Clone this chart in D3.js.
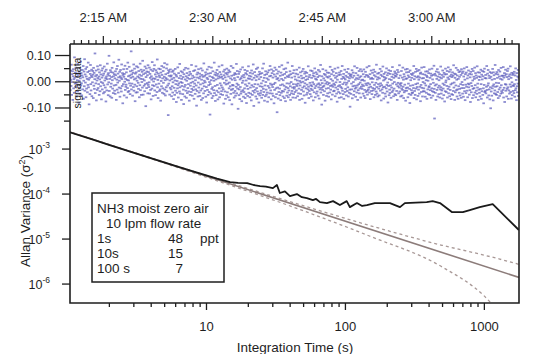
<!DOCTYPE html>
<html>
<head>
<meta charset="utf-8">
<script src="https://cdn.jsdelivr.net/npm/d3@7"></script>
<style>
  html, body { margin: 0; padding: 0; background: #fff; }
  svg { display: block; font-family: "Liberation Sans", Arial, sans-serif; }
</style>
</head>
<body>
<svg id="chart" width="544" height="354"></svg>
<script>
// ---- data ----------------------------------------------------------------
// NH3 zero-air signal (ppb), evenly sampled over the run
const runStart = Date.UTC(2012, 0, 1, 2, 10, 26);
const runEnd   = Date.UTC(2012, 0, 1, 3, 11, 57);
const signalValues = [
 .012,-.034,.041,.005,-.018,.063,-.052,.027,-.003,.038,-.071,.019,.046,-.027,.008,-.044,.091,.014,-.009,.033,
 -.021,.052,-.006,.029,-.058,.017,.004,-.039,.066,-.013,.024,-.082,.036,.001,-.025,.049,-.047,.011,.075,-.016,
 .031,-.008,-.054,.022,.043,-.031,.015,.058,-.067,.002,.037,-.019,.084,-.036,.026,-.005,.047,-.061,.018,-.028,
 .054,.009,-.042,.035,-.014,.071,-.023,.006,-.088,.039,.013,-.049,.028,.062,-.011,-.035,.021,.044,-.057,.016,
 -.004,.039,.025,-.064,.051,-.017,.032,-.029,.008,.106,-.045,.019,-.008,.041,-.073,.024,.003,-.033,.057,.012,
 -.026,.045,-.011,.018,-.052,.034,.007,-.038,.061,-.019,.026,-.003,-.069,.041,.014,-.031,.049,-.007,.022,-.046,
 .029,-.015,.056,-.041,.003,.037,-.024,.012,-.077,.044,.018,-.035,.008,.067,-.012,.025,-.053,.031,-.004,.097,
 -.037,.021,.009,-.058,.042,-.021,.035,-.009,.016,-.063,.051,.004,-.028,.033,-.045,.019,.072,-.016,.027,-.036,
 .011,-.048,.038,.023,-.014,-.071,.047,.006,-.032,.058,-.005,.029,-.043,.015,.082,-.024,.002,.036,-.059,.019,
 .043,-.027,.013,-.039,.064,.008,-.018,.031,-.084,.024,-.011,.046,.017,-.054,.028,-.002,.059,-.033,.009,-.021,
 -.013,.034,-.062,.047,.005,-.026,.071,-.041,.019,.003,-.037,.055,-.008,.022,-.049,.038,-.017,.013,.114,-.031,
 .026,-.009,.041,-.055,.017,.032,-.022,.064,-.036,.007,.048,-.013,-.076,.029,.011,-.043,.034,.057,-.019,.002,
 -.042,.018,.053,-.006,-.029,.039,.014,-.061,.025,-.015,.067,-.034,.009,.044,-.052,.021,-.003,.036,-.024,.078,
 .008,-.051,.027,.042,-.017,.003,-.038,.056,-.011,.031,-.095,.016,.049,-.026,.037,-.007,.023,-.046,.061,-.014,
 .035,-.022,-.004,.052,-.047,.028,.013,-.033,.044,-.069,.019,.006,-.028,.073,-.015,.039,-.056,.011,-.001,.047,
 -.018,.061,-.035,.009,.026,-.053,.042,-.012,.017,.034,-.041,.083,-.023,.005,-.064,.029,.048,-.009,.021,-.037,
 .015,-.031,.046,-.074,.033,.001,-.019,.058,.024,-.044,.011,-.027,.039,-.006,.053,-.048,.017,.069,-.032,.004,
 -.054,.027,.012,-.023,.049,-.038,.064,.007,-.016,.031,-.129,.042,-.009,.021,.036,-.051,.003,-.025,.045,.018,
 -.031,.022,-.057,.008,-.019,.036,-.043,-.004,.041,-.068,.013,-.025,.029,-.052,.003,.047,-.036,-.011,.024,-.079,
 .018,-.044,.001,-.027,.053,-.015,-.062,.031,-.008,.012,-.039,.066,-.023,-.047,.021,-.003,.038,-.071,.009,-.018,
 -.006,.034,-.049,.016,-.032,-.087,.027,.044,-.021,-.058,.007,-.014,.051,-.036,.019,-.063,.002,.031,-.045,.013,
 -.026,.048,-.011,-.039,.023,-.074,.009,.036,-.052,-.017,.028,-.006,-.041,.062,-.029,.011,-.055,.021,-.002,-.034,
 .039,-.021,-.067,.015,-.009,.042,-.048,.004,-.031,.057,-.016,-.093,.026,-.037,.014,.033,-.058,-.005,.046,-.024,
 -.043,.011,.029,-.056,.018,-.012,-.035,.049,-.071,.006,.024,-.028,.041,-.064,-.008,.017,-.046,.068,-.019,.002,
 .021,-.037,-.004,.034,-.059,.026,-.022,-.081,.013,.045,-.033,.008,-.052,.029,-.015,.055,-.041,-.003,.019,-.127,
 -.011,.031,-.047,.004,.052,-.029,-.064,.016,-.023,.038,-.056,.012,-.034,.002,.071,-.045,.025,-.018,-.075,.033,
 .007,-.053,.022,-.036,.043,-.014,.028,-.069,.011,-.042,.019,.056,-.027,-.061,.035,-.008,.014,-.049,.026,-.016,
 -.038,.017,.061,-.024,-.052,.009,-.031,.037,-.085,.023,-.006,.044,-.039,.015,-.067,.031,-.012,.003,-.054,.048,
 .026,-.042,-.009,.033,-.061,.018,.042,-.027,-.005,-.072,.036,-.019,.011,-.048,.058,-.033,.021,-.088,.006,-.014,
 -.029,.051,-.016,-.044,.024,-.062,.012,.031,-.037,.004,-.055,.027,-.021,.066,-.046,-.009,.039,-.028,.016,-.105,
 -.014,.028,-.053,-.031,.036,-.068,.007,-.022,.045,-.047,.012,-.039,-.076,.019,-.006,.053,-.034,.002,-.059,.024,
 -.041,.015,-.027,.043,-.064,-.012,.031,-.049,.003,-.083,.026,-.018,.039,-.056,-.029,.011,.057,-.044,-.008,.021,
 .009,-.061,.032,-.024,-.047,.018,-.073,.041,-.015,.006,-.052,.029,-.037,.064,-.021,-.094,.013,-.043,.035,-.011,
 -.033,.022,-.058,.004,.047,-.026,-.067,.017,-.039,.052,-.012,-.048,.025,-.081,.008,.036,-.054,-.019,.028,-.045,
 .016,-.036,-.008,-.063,.031,-.021,.049,-.052,.002,-.029,.067,-.041,.013,-.074,.024,-.016,-.057,.038,-.003,-.032,
 -.051,.027,.011,-.043,-.078,.034,-.018,.006,-.061,.042,-.025,.019,-.046,.058,-.009,-.035,.021,-.069,.045,-.014,
 .031,-.047,-.022,.014,-.056,.039,-.011,-.084,.026,-.033,.052,-.006,-.061,.018,-.027,.044,-.049,.008,-.118,.029,
 -.024,.012,-.066,.037,-.041,.003,.055,-.028,-.053,.021,-.015,-.072,.033,-.044,.009,.061,-.037,-.012,.024,-.058,
 .004,-.039,.046,-.017,-.064,.028,-.031,.013,-.076,.049,-.022,.035,-.055,-.008,.019,-.043,.071,-.026,-.061,.016,
 -.035,.023,-.009,-.052,.038,-.019,-.071,.027,-.003,-.046,.014,-.037,.058,-.024,-.062,.031,-.011,-.049,.042,-.028,
 -.022,.018,-.041,.007,-.063,.029,-.012,-.035,.044,-.018,.003,-.057,.026,-.009,-.046,.015,-.028,.052,-.071,.001,
 -.016,.034,-.048,-.005,.021,-.033,.011,-.067,.038,-.024,-.002,.047,-.039,.013,-.054,-.019,.029,-.008,-.082,.036,
 .005,-.027,.019,-.051,.032,-.013,-.044,.008,-.031,.057,-.021,-.064,.016,-.037,.024,-.006,-.049,.041,-.015,-.029,
 -.058,.013,-.019,.039,-.034,-.004,.022,-.073,.031,-.011,-.042,.018,.049,-.026,-.061,.009,-.018,.034,-.047,.006,
 .027,-.039,-.012,.016,-.055,.043,-.023,-.008,-.066,.021,.037,-.031,-.014,.062,-.043,.004,-.025,-.089,.019,-.007,
 -.033,.046,-.021,-.052,.011,-.017,.028,-.038,.003,-.074,.024,-.009,.041,-.028,-.056,.017,-.003,.033,-.046,-.012,
 .014,-.026,-.059,.032,-.007,.019,-.043,.055,-.018,-.032,.008,-.069,.027,-.015,.043,-.051,.002,-.021,.036,-.038,
 -.009,.022,-.036,-.014,.048,-.057,.013,-.024,-.004,.031,-.047,.019,-.078,.006,-.031,.052,-.019,-.041,.024,-.063,
 .033,-.015,-.003,-.046,.025,-.022,.039,-.061,.009,-.027,.058,-.036,-.011,.017,-.049,.028,-.067,.012,-.005,.044,
 -.041,.007,-.029,.021,-.013,-.054,.035,-.006,-.037,.016,-.023,.047,-.058,.001,.029,-.044,.011,-.032,-.097,.023,
 .018,-.048,.026,-.009,-.031,.042,-.065,.014,-.019,.033,-.003,-.052,.021,-.038,.057,-.017,-.028,.006,-.059,.031,
 -.024,.012,-.043,.051,-.016,-.071,.023,-.034,.008,-.011,.039,-.046,.015,-.027,-.005,.046,-.062,.019,-.021,.004,
 .038,-.029,-.013,.006,-.047,.027,-.018,.045,-.056,.002,-.033,.017,-.064,.036,-.009,-.041,.024,-.015,.053,-.036,
 -.051,.021,-.007,-.032,.016,-.024,.058,-.043,-.012,.027,-.068,.009,-.021,.041,-.037,.013,-.049,-.004,.032,-.026,
 .009,-.035,.044,-.061,.023,-.014,-.029,.036,-.052,.018,-.006,-.039,.063,-.022,-.047,.007,.029,-.058,.015,-.011,
 -.028,.032,-.054,.011,-.019,.047,-.036,-.008,.024,-.073,.038,-.015,-.031,.019,-.044,.056,-.023,.003,-.066,.028,
 .016,-.021,.007,-.047,.034,-.058,.012,-.027,.049,-.014,-.039,.023,-.005,-.081,.031,-.018,.042,-.053,.008,-.032,
 -.045,.028,-.016,.039,-.063,.005,-.024,.017,-.041,.054,-.009,-.035,.026,-.057,.013,-.028,-.003,.037,-.049,.021,
 .031,-.053,.018,-.012,-.037,.026,-.071,.043,-.019,-.006,.035,-.046,.012,-.024,.061,-.039,-.011,.022,-.058,-.017,
 -.007,.039,-.028,-.055,.014,-.033,.052,-.021,.006,-.064,.027,-.042,.018,-.013,-.036,.045,-.074,.009,-.026,.034,
 -.036,.011,.047,-.024,-.061,.022,-.009,.035,-.048,.016,-.029,-.083,.041,-.017,.004,-.052,.028,-.034,.013,-.045,
 .024,-.043,-.015,.031,-.026,.058,-.064,.008,-.037,.019,-.052,.036,-.011,-.028,.047,-.069,.015,-.022,.039,-.008,
 -.056,.019,-.032,.006,.043,-.047,.014,-.021,.029,-.076,.033,-.014,-.041,.052,-.025,.011,-.058,.027,-.003,-.038,
 .012,-.027,.054,-.039,-.008,.025,-.059,.037,-.016,.004,-.044,.021,-.067,.016,.038,-.031,.002,-.049,.031,-.023,
 -.019,.045,-.052,.013,-.034,-.011,.029,-.063,.021,-.027,.048,-.038,.007,-.055,.024,-.006,-.041,.059,-.029,-.142,
 .028,-.016,-.044,.022,-.071,.037,-.012,.009,-.033,.046,-.058,.018,-.024,.034,-.049,.004,-.017,.027,-.062,.015,
 -.031,.056,-.023,-.047,.011,-.035,.024,-.066,.041,-.009,-.028,.017,-.053,.032,-.014,-.077,.026,-.038,.048,-.004,
 .003,-.041,.027,-.018,.039,-.062,.014,-.029,.053,-.046,.008,-.021,.036,-.057,.019,-.033,.044,-.012,-.068,.025,
 -.049,.016,-.008,.034,-.052,.021,-.037,.061,-.024,-.005,.029,-.071,.013,-.042,.027,-.016,.051,-.034,.006,-.058,
 .022,-.031,.043,-.067,.009,-.019,.035,-.044,.017,-.029,-.054,.038,-.011,.024,-.063,.046,-.026,-.003,.031,-.047,
 -.014,.037,-.059,.018,-.026,.049,-.038,.006,-.072,.027,-.013,-.045,.033,-.021,.054,-.036,.011,-.061,.022,-.009,
 .041,-.023,-.012,-.051,.028,-.034,.015,-.079,.036,-.007,-.042,.026,-.018,.047,-.064,.003,-.029,.039,-.053,.017,
 -.026,.009,.052,-.043,-.015,.031,-.061,.022,-.036,.013,-.048,.057,-.024,-.009,.034,-.071,.018,-.032,.005,-.044,
 .033,-.058,.016,-.029,.044,-.011,-.067,.025,-.038,.007,.039,-.052,.019,-.027,-.084,.036,-.014,.048,-.041,.012,
 -.037,.024,-.046,.011,-.021,.058,-.033,-.062,.029,-.016,.043,-.008,-.054,.021,-.031,.012,-.069,.035,-.023,-.103,
 .017,-.039,.031,-.055,.006,-.027,.047,-.018,-.073,.034,-.012,.023,-.046,.009,-.035,.062,-.021,-.049,.028,-.006,
 -.052,.035,-.019,.013,-.041,.026,-.064,.043,-.007,-.031,.018,-.056,.037,-.024,.009,-.047,.051,-.015,-.038,.021,
 .006,-.044,.021,-.033,.054,-.062,.014,-.025,.031,-.079,.022,-.011,.044,-.036,-.013,.027,-.058,.016,-.029,.039,
 -.023,.048,-.067,.008,-.035,.019,-.047,.026,-.012,.057,-.041,-.021,.013,-.066,.032,-.004,-.053,.024,-.016,-.037,
 .029,-.018,-.045,.036,-.011,-.059,.022,-.034,.049,-.027,.005,-.072,.031,-.019,-.042,.018,-.009,.043,-.056,.014
];

// Allan variance of the signal (ppb^2) vs integration time (s)
const allanTau = [1, 1.5, 2, 3, 4, 5, 6.5, 9, 12, 14.9, 17, 19.8, 22, 24.5, 27, 30.3, 32.4, 34, 37, 40.2,
  45.1, 49, 53.2, 58.8, 62, 66.1, 74.2, 82.1, 92, 103, 108.5, 122, 133, 144, 164, 211, 229, 249, 270,
  388, 428, 483, 588, 706, 792, 934, 1158, 1786];
const allanVar = [2.40e-3, 1.62e-3, 1.21e-3, 8.1e-4, 6.1e-4, 4.95e-4, 3.8e-4, 2.8e-4, 2.15e-4, 1.80e-4,
  1.72e-4, 1.71e-4, 1.55e-4, 1.47e-4, 1.42e-4, 1.32e-4, 1.55e-4, 1.03e-4, 1.12e-4, 8.8e-5,
  9.75e-5, 8.3e-5, 7.94e-5, 7.17e-5, 7.6e-5, 6.47e-5, 6.15e-5, 6.8e-5, 5.55e-5, 6.8e-5,
  5.0e-5, 6.15e-5, 5.3e-5, 5.55e-5, 6.15e-5, 6.15e-5, 5.55e-5, 5.0e-5, 6.15e-5,
  6.47e-5, 6.8e-5, 6.15e-5, 3.88e-5, 3.88e-5, 4.3e-5, 5.0e-5, 5.85e-5, 1.55e-5];

// white-noise (1/tau) reference and its confidence bounds
const whiteTau = [1, 1790];
const whiteVar = [2.45e-3, 1.369e-6];
const boundTau = [1, 10, 50, 150, 500, 1000, 1300, 1790];
const upperVar = [2.47e-3, 2.55e-4, 5.4e-5, 1.96e-5, 7.1e-6, 4.3e-6, 3.5e-6, 2.67e-6];
const lowerVar = [2.43e-3, 2.33e-4, 4.17e-5, 1.14e-5, 2.35e-6, 5.4e-7, 2.3e-7, 1.0e-7];

// axis ticks and legend text
const sigMajorTicks = [0.10, 0.00, -0.10];
const sigMinorTicks = [0.05, -0.05, -0.15];
const varTickExps = [-3, -4, -5, -6];
const tauLabels = [10, 100, 1000];
const legendTitle = ["NH3 moist zero air", "10 lpm flow rate"];
const legendTimes = ["1s", "10s", "100 s"];
const legendPpt = [48, 15, 7];

// ---- layout --------------------------------------------------------------
const L = 70, R = 519, T = 44, B = 303;
const svg = d3.select("#chart");
const ink = "#1e1e1e";

const xTime = d3.scaleUtc().domain([runStart, runEnd]).range([L, R]);
const ySig = d3.scaleLinear().domain([-0.19, 0.15]).range([131.1, 41.9]);
const xTau = d3.scaleLog().domain([1.05, 1790]).range([L, R]);
const yVar = d3.scaleLog().domain([3.7e-7, 2.6e-3]).range([B, B - 45 * Math.log10(2.6e-3 / 3.7e-7)]);

svg.append("defs").append("clipPath").attr("id", "plotClip")
  .append("rect").attr("x", L).attr("y", T).attr("width", R - L).attr("height", B - T);

// ---- signal panel --------------------------------------------------------
const step = (runEnd - runStart) / signalValues.length;
svg.append("g").attr("clip-path", "url(#plotClip)")
  .selectAll("rect").data(signalValues).join("rect")
  .attr("x", (d, i) => xTime(runStart + i * step) - 1.3)
  .attr("y", d => ySig(d) - 0.9)
  .attr("width", 2.6).attr("height", 1.8)
  .attr("fill", "#5a5abc").attr("opacity", 0.7);

// ---- Allan variance panel ------------------------------------------------
const pl = svg.append("g").attr("clip-path", "url(#plotClip)");
const lineOf = curve => d3.line().x(d => xTau(d[0])).y(d => yVar(d[1])).curve(curve);

pl.append("path").datum(d3.zip(boundTau, upperVar))
  .attr("d", lineOf(d3.curveMonotoneX)).attr("fill", "none")
  .attr("stroke", "#a89896").attr("stroke-width", 1.3).attr("stroke-dasharray", "3,3");
pl.append("path").datum(d3.zip(boundTau, lowerVar))
  .attr("d", lineOf(d3.curveMonotoneX)).attr("fill", "none")
  .attr("stroke", "#a89896").attr("stroke-width", 1.3).attr("stroke-dasharray", "3,3");
pl.append("path").datum(d3.zip(whiteTau, whiteVar))
  .attr("d", lineOf(d3.curveLinear)).attr("fill", "none")
  .attr("stroke", "#8c7c7a").attr("stroke-width", 1.6);
pl.append("path").datum(d3.zip(allanTau, allanVar))
  .attr("d", lineOf(d3.curveLinear)).attr("fill", "none")
  .attr("stroke", "#1a1a1a").attr("stroke-width", 1.8).attr("stroke-linejoin", "round");

// ---- axes ----------------------------------------------------------------
const fmtSig = v => (v < 0 ? "-" : "") + Math.abs(v).toFixed(2);
const styleAxis = g => {
  g.select(".domain").remove();
  g.selectAll("line").attr("stroke", ink).attr("stroke-width", 1.3);
  g.selectAll("text").attr("fill", ink).attr("font-family", "Liberation Sans, Arial, sans-serif");
};

// top: clock time, minute ticks with longer 5- and 15-minute marks
const minuteTicks = xTime.ticks(d3.utcMinute.every(1));
const tickLen = d => d.getUTCMinutes() % 15 === 0 ? 8 : (d.getUTCMinutes() % 5 === 0 ? 6 : 4);
const gTop = svg.append("g");
gTop.selectAll("line").data(minuteTicks).join("line")
  .attr("x1", d => xTime(d)).attr("x2", d => xTime(d))
  .attr("y1", T).attr("y2", d => T - tickLen(d))
  .attr("stroke", ink).attr("stroke-width", 1.2);
gTop.selectAll("text").data(minuteTicks.filter(d => d.getUTCMinutes() % 15 === 0)).join("text")
  .attr("x", d => xTime(d)).attr("y", 22).attr("text-anchor", "middle")
  .attr("font-size", 13).attr("fill", ink).text(d3.utcFormat("%-I:%M %p"));

// left: signal
const gSig = svg.append("g").attr("transform", `translate(${L},0)`)
  .call(d3.axisLeft(ySig).tickValues(sigMajorTicks).tickSize(15).tickPadding(4).tickFormat(fmtSig))
  .call(styleAxis);
gSig.selectAll("text").attr("font-size", 12.5);
svg.append("g").attr("transform", `translate(${L},0)`)
  .call(d3.axisLeft(ySig).tickValues(sigMinorTicks).tickSize(6).tickFormat(""))
  .call(styleAxis);

// left: Allan variance (decade labels as 10 with superscript exponent)
const gVar = svg.append("g").attr("transform", `translate(${L},0)`)
  .call(d3.axisLeft(yVar).tickValues(varTickExps.map(e => Math.pow(10, e))).tickSize(8).tickFormat(""))
  .call(styleAxis);
gVar.selectAll(".tick").each(function(d, i) {
  const t = d3.select(this).append("text")
    .attr("x", -20).attr("y", 4.5).attr("text-anchor", "end")
    .attr("fill", ink).attr("font-size", 12.5);
  t.append("tspan").text("10");
  t.append("tspan").attr("dy", -6).attr("font-size", 8.5).text(String(varTickExps[i]));
});

// bottom: integration time
const tauTicks = xTau.ticks().filter(v => v >= 1.05 && v <= 1790);
const gTau = svg.append("g").attr("transform", `translate(0,${B})`)
  .call(d3.axisBottom(xTau).tickValues(tauTicks).tickSize(4).tickPadding(15)
    .tickFormat(v => tauLabels.includes(v) ? String(v) : ""))
  .call(styleAxis);
gTau.selectAll(".tick line").attr("y2", v => tauLabels.includes(v) ? 7 : 4);
gTau.selectAll("text").attr("font-size", 13);

// frame
svg.append("path")
  .attr("d", `M${L},${T}V${B}H${R}V${T}H${L}`)
  .attr("fill", "none").attr("stroke", ink).attr("stroke-width", 1.6);

// axis titles
svg.append("text").attr("x", 295).attr("y", 352).attr("text-anchor", "middle")
  .attr("font-size", 13.5).attr("fill", ink).text("Integration Time (s)");
const yt = svg.append("text").attr("transform", "translate(30,211) rotate(-90)")
  .attr("text-anchor", "middle").attr("font-size", 13.5).attr("fill", ink);
yt.append("tspan").text("Allan Variance (σ");
yt.append("tspan").attr("dy", -5).attr("font-size", 9).text("2");
yt.append("tspan").attr("dy", 5).text(")");
svg.append("text").attr("transform", "translate(81,83) rotate(-90)")
  .attr("text-anchor", "middle").attr("font-size", 10.5).attr("fill", ink).text("signal data");

// ---- legend box ----------------------------------------------------------
const lg = svg.append("g").attr("fill", ink).attr("font-size", 13.5);
lg.append("rect").attr("x", 92).attr("y", 193).attr("width", 132).attr("height", 89)
  .attr("fill", "#fff").attr("stroke", ink).attr("stroke-width", 1.5);
lg.append("text").attr("x", 97).attr("y", 213).text(legendTitle[0]);
lg.append("text").attr("x", 106).attr("y", 228).text(legendTitle[1]);
legendTimes.forEach((s, i) => {
  const yy = 243 + i * 15;
  lg.append("text").attr("x", 97).attr("y", yy).text(s);
  lg.append("text").attr("x", 183).attr("y", yy).attr("text-anchor", "end").text(legendPpt[i]);
});
lg.append("text").attr("x", 200).attr("y", 243).text("ppt");
</script>
</body>
</html>
